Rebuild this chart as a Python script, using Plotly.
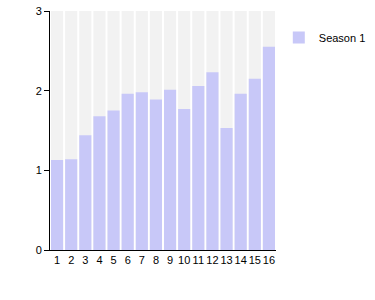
import plotly.graph_objects as go

categories = [str(i) for i in range(1, 17)]
season1 = [1.13, 1.14, 1.44, 1.68, 1.75, 1.96, 1.98, 1.89, 2.01, 1.77, 2.06, 2.23, 1.53, 1.96, 2.15, 2.55]
background = [3] * 16
yticks = [0, 1, 2, 3]

fig = go.Figure()
fig.add_trace(go.Bar(x=categories, y=background, marker=dict(color="#f2f2f2", line=dict(width=0)),
                     showlegend=False, hoverinfo="skip"))
fig.add_trace(go.Bar(x=categories, y=season1, name="Season 1",
                     marker=dict(color="#c8c8f8", line=dict(width=0))))

fig.update_layout(
    width=375, height=300,
    barmode="overlay", bargap=0.14,
    margin=dict(l=50, r=5, t=11, b=50, autoexpand=False),
    paper_bgcolor="white", plot_bgcolor="white",
    font=dict(family="Liberation Sans, Arial, sans-serif", size=11, color="#000"),
    showlegend=True,
    legend=dict(x=0.715, y=0.95, xanchor="left", yanchor="top", font=dict(size=11),
                itemwidth=30, bgcolor="rgba(0,0,0,0)"),
    xaxis=dict(type="category", domain=[0, 226/320], showline=True, linecolor="black", linewidth=1,
               ticks="", showgrid=False, tickangle=0, tickfont=dict(size=11)),
    yaxis=dict(range=[0, 3], tickvals=yticks, showline=True, linecolor="black", linewidth=1,
               ticks="outside", ticklen=5, tickcolor="black", showgrid=False, zeroline=False,
               tickfont=dict(size=11)),
)
fig.write_html("out.html")
